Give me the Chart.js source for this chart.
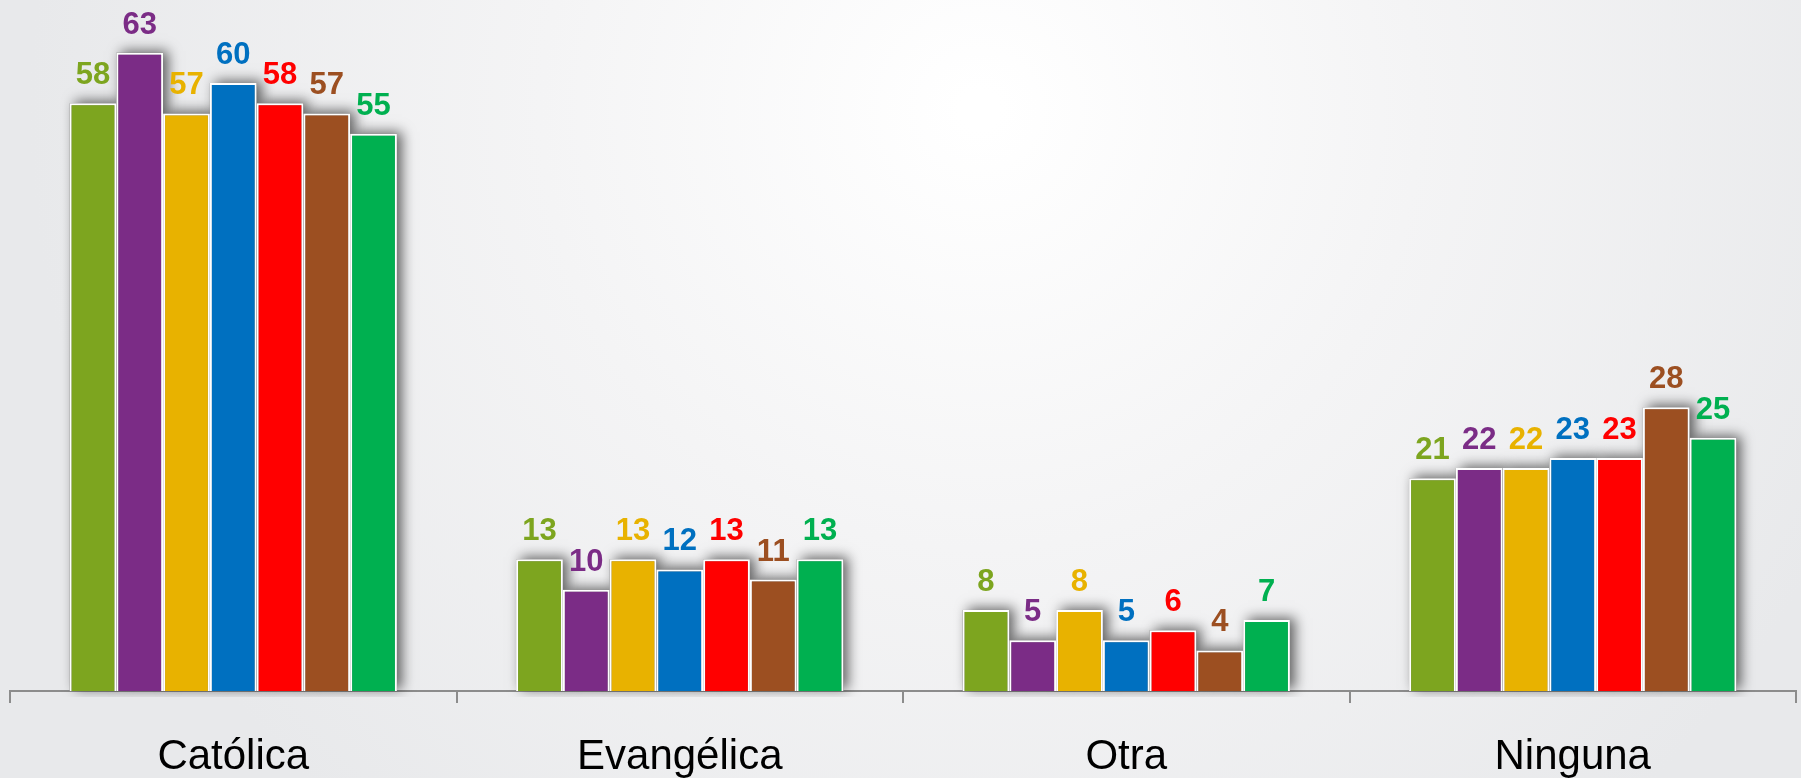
<!DOCTYPE html>
<html>
<head>
<meta charset="utf-8">
<script src="https://cdn.jsdelivr.net/npm/chart.js@4.4.1/dist/chart.umd.min.js"></script>
<style>
  html, body { margin: 0; padding: 0; background: #e9eaec; }
  #wrap { width: 1801px; height: 778px; }
</style>
</head>
<body>
<div id="wrap"><canvas id="chart" width="1801" height="778"></canvas></div>
<script>
/* data */
const categories = ['Católica', 'Evangélica', 'Otra', 'Ninguna'];
const serie1 = [58, 13, 8, 21];
const serie2 = [63, 10, 5, 22];
const serie3 = [57, 13, 8, 22];
const serie4 = [60, 12, 5, 23];
const serie5 = [58, 13, 6, 23];
const serie6 = [57, 11, 4, 28];
const serie7 = [55, 13, 7, 25];
const seriesNames = ['Serie 1', 'Serie 2', 'Serie 3', 'Serie 4', 'Serie 5', 'Serie 6', 'Serie 7'];
const seriesColors = ['#7DA51F', '#7B2C86', '#E8B200', '#0070C0', '#FF0000', '#9C4F21', '#00B050'];

/* background: soft radial light */
const bgPlugin = {
  id: 'bg',
  beforeDraw(chart) {
    const { ctx, width, height } = chart;
    const g = ctx.createRadialGradient(980, 110, 20, 980, 110, 950);
    g.addColorStop(0, '#ffffff');
    g.addColorStop(0.45, '#f4f4f5');
    g.addColorStop(1, '#e8e9eb');
    ctx.save();
    ctx.fillStyle = g;
    ctx.fillRect(0, 0, width, height);
    ctx.restore();
  }
};

/* blurred drop shadow behind every bar, drawn before the bars */
const shadowPlugin = {
  id: 'barShadow',
  beforeDatasetsDraw(chart) {
    const { ctx, chartArea } = chart;
    ctx.save();
    ctx.beginPath();
    ctx.rect(chartArea.left - 20, 0, chartArea.right - chartArea.left + 40, chartArea.bottom + 6);
    ctx.clip();
    ctx.shadowColor = 'rgba(0,0,0,0.6)';
    ctx.shadowBlur = 12;
    ctx.shadowOffsetX = 5;
    ctx.shadowOffsetY = -2;
    ctx.fillStyle = '#888';
    chart.data.datasets.forEach((ds, i) => {
      chart.getDatasetMeta(i).data.forEach(bar => {
        const p = bar.getProps(['x', 'y', 'base', 'width'], true);
        ctx.fillRect(p.x - p.width / 2, p.y, p.width, p.base - p.y);
      });
    });
    ctx.restore();
  }
};

/* value labels above bars */
const valueLabels = {
  id: 'valueLabels',
  afterDatasetsDraw(chart) {
    const { ctx } = chart;
    ctx.save();
    ctx.font = 'bold 31px "Liberation Sans", Arial, sans-serif';
    ctx.textAlign = 'center';
    ctx.textBaseline = 'alphabetic';
    chart.data.datasets.forEach((ds, i) => {
      ctx.fillStyle = ds.backgroundColor;
      chart.getDatasetMeta(i).data.forEach((bar, j) => {
        const p = bar.getProps(['x', 'y'], true);
        ctx.fillText(ds.data[j], p.x, p.y - 19);
      });
    });
    ctx.restore();
  }
};

const allSeries = [serie1, serie2, serie3, serie4, serie5, serie6, serie7];

new Chart(document.getElementById('chart'), {
  type: 'bar',
  data: {
    labels: categories,
    datasets: allSeries.map((vals, i) => ({
      label: seriesNames[i],
      data: vals,
      backgroundColor: seriesColors[i],
      borderColor: '#ffffff',
      borderWidth: 2,
      barPercentage: 1,
      categoryPercentage: 0.733
    }))
  },
  options: {
    responsive: false,
    animation: false,
    layout: { padding: { left: 10, right: 5, top: 2, bottom: 0 } },
    plugins: {
      legend: { display: false },
      tooltip: { enabled: false }
    },
    scales: {
      x: {
        grid: { drawOnChartArea: false, drawTicks: true, tickLength: 12, color: '#8c8c8c', lineWidth: 2 },
        border: { color: '#8c8c8c', width: 2 },
        ticks: { color: '#000', padding: 29, font: { family: '"Liberation Sans", Arial, sans-serif', size: 42 } },
        afterFit: scale => { scale.height = 87; }
      },
      y: { display: false, min: 0, max: 68 }
    }
  },
  plugins: [bgPlugin, shadowPlugin, valueLabels]
});
</script>
</body>
</html>
